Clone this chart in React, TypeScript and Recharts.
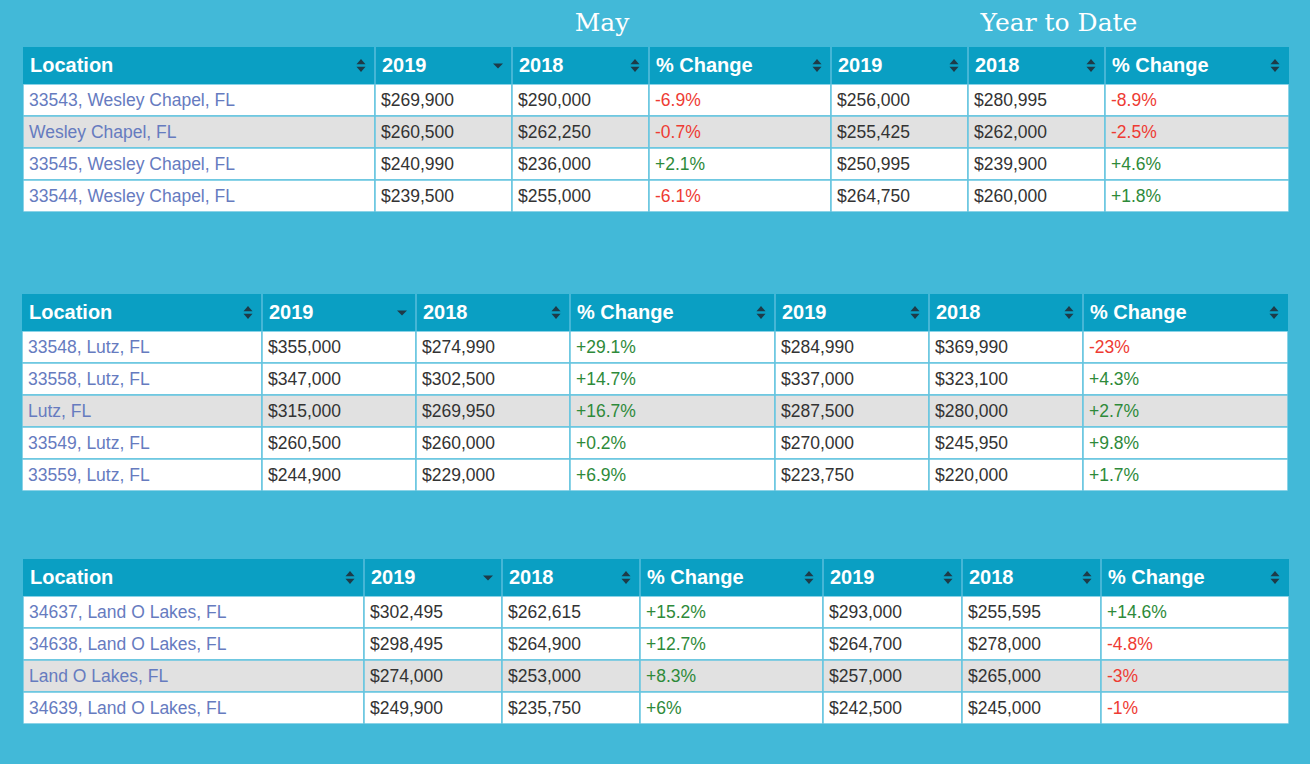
import React from "react";
import { BarChart, Bar, XAxis, YAxis } from "recharts";

// ---------- data ----------
const sectionTitles = ["May", "Year to Date"];
const headerLabels = ["Location", "2019", "2018", "% Change", "2019", "2018", "% Change"];

const t1Locations = ["33543, Wesley Chapel, FL", "Wesley Chapel, FL", "33545, Wesley Chapel, FL", "33544, Wesley Chapel, FL"];
const t1May2019 = [269900, 260500, 240990, 239500];
const t1May2018 = [290000, 262250, 236000, 255000];
const t1MayChange = [-6.9, -0.7, 2.1, -6.1];
const t1Ytd2019 = [256000, 255425, 250995, 264750];
const t1Ytd2018 = [280995, 262000, 239900, 260000];
const t1YtdChange = [-8.9, -2.5, 4.6, 1.8];

const t2Locations = ["33548, Lutz, FL", "33558, Lutz, FL", "Lutz, FL", "33549, Lutz, FL", "33559, Lutz, FL"];
const t2May2019 = [355000, 347000, 315000, 260500, 244900];
const t2May2018 = [274990, 302500, 269950, 260000, 229000];
const t2MayChange = [29.1, 14.7, 16.7, 0.2, 6.9];
const t2Ytd2019 = [284990, 337000, 287500, 270000, 223750];
const t2Ytd2018 = [369990, 323100, 280000, 245950, 220000];
const t2YtdChange = [-23, 4.3, 2.7, 9.8, 1.7];

const t3Locations = ["34637, Land O Lakes, FL", "34638, Land O Lakes, FL", "Land O Lakes, FL", "34639, Land O Lakes, FL"];
const t3May2019 = [302495, 298495, 274000, 249900];
const t3May2018 = [262615, 264900, 253000, 235750];
const t3MayChange = [15.2, 12.7, 8.3, 6];
const t3Ytd2019 = [293000, 264700, 257000, 242500];
const t3Ytd2018 = [255595, 278000, 265000, 245000];
const t3YtdChange = [14.6, -4.8, -3, -1];

// ---------- layout / style ----------
const W = 1310;
const H = 764;
const HEADER_H = 37;
const ROW_H = 32;
const BG = "#42B9D8";
const HEADER_BG = "#0A9FC3";
const HEADER_SEP = "#45B6D6";
const CELL_BORDER = "#66C5DF";
const STRIPE = "#E1E1E1";
const LOC_COLOR = "#667BBF";
const NUM_COLOR = "#333333";
const NEG = "#EE3B33";
const POS = "#2E8A3A";
const ICON = "#1E3B48";
const FONT = "'Liberation Sans', Arial, sans-serif";
const FIELDS = ["location", "may2019", "may2018", "mayChange", "ytd2019", "ytd2018", "ytdChange"];
const SORTED_COL = 1;

const money = (v: number) => "$" + v.toLocaleString("en-US");
const pct = (v: number) => (v > 0 ? "+" : "") + String(v) + "%";

function buildRows(loc: string[], a: number[], b: number[], c: number[], d: number[], e: number[], f: number[]) {
  return loc.map((l, i) => ({
    location: l,
    may2019: a[i],
    may2018: b[i],
    mayChange: c[i],
    ytd2019: d[i],
    ytd2018: e[i],
    ytdChange: f[i],
  }));
}

function SortIcon({ cx, cy, sorted }: { cx: number; cy: number; sorted: boolean }) {
  if (sorted) {
    return <polygon points={`${cx - 5},${cy - 2} ${cx + 5},${cy - 2} ${cx},${cy + 3}`} fill={ICON} />;
  }
  return (
    <g fill={ICON}>
      <polygon points={`${cx - 4.5},${cy - 1.2} ${cx + 4.5},${cy - 1.2} ${cx},${cy - 6.5}`} />
      <polygon points={`${cx - 4.5},${cy + 1.2} ${cx + 4.5},${cy + 1.2} ${cx},${cy + 6.5}`} />
    </g>
  );
}

function DataTable({ top, left, widths, rows, highlight }: { top: number; left: number; widths: number[]; rows: any[]; highlight: number }) {
  const total = widths.reduce((s, v) => s + v, 0);
  const starts: number[] = [];
  widths.reduce((acc, v) => {
    starts.push(acc);
    return acc + v;
  }, 0);
  const height = HEADER_H + rows.length * ROW_H;

  const renderHeader = (props: any) => {
    const { x, index } = props;
    const w = widths[index];
    const cy = HEADER_H / 2;
    return (
      <g key={`h-${index}`}>
        <rect x={x} y={0} width={w} height={HEADER_H} fill={HEADER_BG} />
        {index > 0 && <line x1={x} x2={x} y1={0} y2={HEADER_H} stroke={HEADER_SEP} strokeWidth={2} />}
        <text x={x + 7} y={cy + 6} fill="#ffffff" fontFamily={FONT} fontWeight="bold" fontSize={20}>
          {headerLabels[index]}
        </text>
        <SortIcon cx={x + w - 14} cy={cy} sorted={index === SORTED_COL} />
      </g>
    );
  };

  const renderCell = (props: any, col: number) => {
    const { x, y, width, height: h, payload, index } = props;
    const field = FIELDS[col];
    const v = payload[field];
    let txt = "";
    let color = NUM_COLOR;
    if (col === 0) {
      txt = v;
      color = LOC_COLOR;
    } else if (col === 3 || col === 6) {
      txt = pct(v);
      color = v < 0 ? NEG : POS;
    } else {
      txt = money(v);
    }
    return (
      <g>
        <rect x={x} y={y} width={width} height={h} fill={index === highlight ? STRIPE : "#ffffff"} stroke={CELL_BORDER} strokeWidth={1.5} />
        <text x={x + 6} y={y + h / 2 + 6} fill={color} fontFamily={FONT} fontSize={17.5}>
          {txt}
        </text>
      </g>
    );
  };

  return (
    <div style={{ position: "absolute", left: 0, top, width: W, height }}>
      <BarChart
        width={W}
        height={height}
        data={rows}
        layout="vertical"
        margin={{ top: 0, left, right: W - left - total, bottom: 0 }}
        barCategoryGap={0}
        barGap={0}
      >
        <XAxis
          type="number"
          domain={[0, total]}
          ticks={starts}
          interval={0}
          orientation="top"
          height={HEADER_H}
          axisLine={false}
          tickLine={false}
          tick={renderHeader}
          allowDataOverflow
        />
        <YAxis type="category" dataKey="location" hide width={0} />
        {FIELDS.map((f, i) => (
          <Bar
            key={f}
            name={f}
            dataKey={() => widths[i]}
            stackId="row"
            isAnimationActive={false}
            shape={(p: any) => renderCell(p, i)}
          />
        ))}
      </BarChart>
    </div>
  );
}

export default function App() {
  const rows1 = buildRows(t1Locations, t1May2019, t1May2018, t1MayChange, t1Ytd2019, t1Ytd2018, t1YtdChange);
  const rows2 = buildRows(t2Locations, t2May2019, t2May2018, t2MayChange, t2Ytd2019, t2Ytd2018, t2YtdChange);
  const rows3 = buildRows(t3Locations, t3May2019, t3May2018, t3MayChange, t3Ytd2019, t3Ytd2018, t3YtdChange);

  const titleStyle: React.CSSProperties = {
    position: "absolute",
    top: 7,
    width: 300,
    textAlign: "center",
    color: "#ffffff",
    fontFamily: "'DejaVu Serif', serif",
    fontSize: 25,
    lineHeight: "32px",
  };

  return (
    <div style={{ position: "absolute", left: 0, top: 0, width: W, height: H, background: BG, overflow: "hidden" }}>
      <div style={{ ...titleStyle, left: 602 - 150 }}>{sectionTitles[0]}</div>
      <div style={{ ...titleStyle, left: 1059 - 150 }}>{sectionTitles[1]}</div>
      <DataTable top={47} left={23} widths={[352, 137, 137, 182, 137, 137, 184]} rows={rows1} highlight={1} />
      <DataTable top={294} left={22} widths={[240, 154, 154, 205, 154, 154, 205]} rows={rows2} highlight={2} />
      <DataTable top={559} left={23} widths={[341, 138, 138, 183, 139, 139, 188]} rows={rows3} highlight={2} />
    </div>
  );
}
